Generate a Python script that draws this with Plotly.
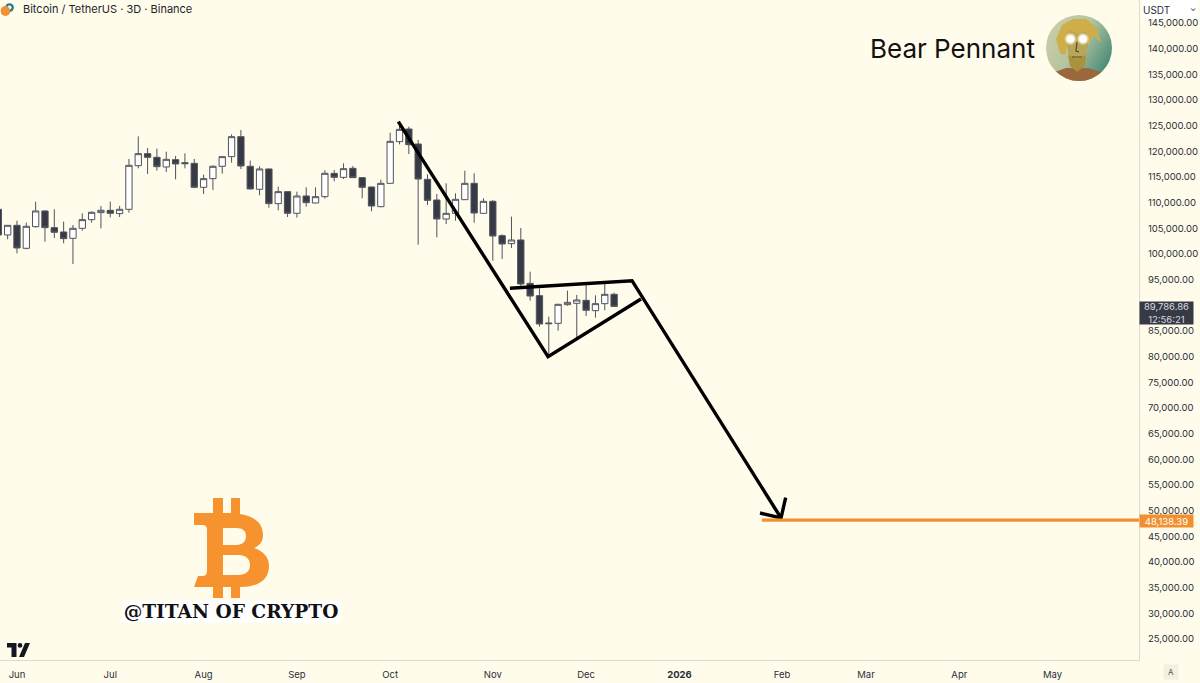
import base64

import plotly.graph_objects as go

BG = "#FFFCEB"
DARK = "#363A45"
ORANGE = "#F29030"
AXIS_TEXT = "#2A2E39"

opens = [108703, 103703, 105586, 101106, 105327, 108378, 105132, 104288, 103054, 105002,
         106690, 108054, 108508, 107859, 108703, 117209, 119546, 118832, 116949, 118377,
         117793, 117663, 112988, 114677, 117079, 118962, 122858, 117079, 112599, 116560,
         109807, 112144, 107924, 111300, 109936, 111170, 115713, 114933, 116686, 114868,
         113050, 109219, 113764, 121881, 124348, 121426, 114543, 110518, 106817, 107921,
         110583, 113764, 107921, 110258, 103570, 102012, 102726, 94285, 91882, 86560,
         86493, 90130, 90390, 90974, 88961, 90325, 92143]
highs = [108900, 105586, 106495, 106106, 110196, 108500, 108703, 106300, 105651, 107924,
         108313, 109352, 110196, 109352, 118507, 122923, 120650, 120520, 119936, 119092,
         119611, 118507, 115456, 117274, 119092, 123312, 124156, 118183, 117079, 116650,
         113118, 112250, 112144, 112988, 112988, 116300, 116362, 117660, 117141, 114950,
         113100, 114479, 123634, 125127, 124802, 122205, 115518, 111687, 113764, 111816,
         116232, 115713, 110842, 110518, 103830, 107271, 105063, 96558, 93312, 87793,
         90300, 92857, 92013, 93960, 91948, 94285, 92467]
lows = [103000, 102860, 100132, 100911, 105132, 102405, 103119, 102080, 98055, 104547,
        106106, 105002, 107145, 107210, 108054, 116689, 115585, 116235, 115975, 114547,
        116689, 112793, 111690, 112469, 115650, 117793, 116560, 112599, 111430, 109028,
        108508, 107210, 107080, 109222, 109872, 110781, 114154, 114608, 114800, 110842,
        108310, 109089, 113700, 121361, 119478, 101817, 109544, 103246, 105843, 106492,
        110518, 106102, 107900, 98700, 99025, 101168, 93636, 90909, 85844, 80130,
        85065, 89935, 83571, 87922, 87597, 89026, 89700]
closes = [103703, 105586, 101171, 105391, 108378, 105132, 104223, 102989, 105002, 106690,
          108119, 108508, 107924, 108703, 117274, 119546, 118832, 117014, 118442, 117533,
          117598, 112988, 114677, 117079, 118962, 122858, 117144, 112664, 116560, 109807,
          112144, 107924, 111300, 110001, 111170, 115715, 114933, 116621, 114868, 112985,
          109349, 113764, 121946, 124283, 121296, 114608, 110453, 106817, 107921, 110648,
          113764, 107985, 110258, 103505, 101947, 102726, 94155, 91817, 86364, 86430,
          90195, 90585, 91039, 89026, 90325, 92143, 89786.86]

month_bars = [2, 12, 22, 32, 42, 53, 63, 73, 84, 93, 103, 113]
month_labels = ["Jun", "Jul", "Aug", "Sep", "Oct", "Nov", "Dec", "<b>2026</b>", "Feb", "Mar", "Apr", "May"]
# 90,000 sits under the last price box
price_ticks = [p for p in range(25000, 150000, 5000) if p != 90000]

# drawn overlay, in bar index / price
move_x = [42.87, 58.92, 68.88]
move_y = [125770, 79992, 91232]
top_x = [54.84, 67.92, 83.89]
top_y = [93316, 94797, 48571]
head_x = [84.39, 83.89, 81.64]
head_y = [52525, 48571, 49545]
target_x = [81.85, 122.26]
target_y = [48138.39, 48138.39]

X_RANGE = [0.18, 122.26]
Y_RANGE = [20909, 149477]


def svg_uri(body, w, h):
    svg = f'<svg xmlns="http://www.w3.org/2000/svg" viewBox="0 0 {w} {h}" width="{w}" height="{h}">{body}</svg>'
    return "data:image/svg+xml;base64," + base64.b64encode(svg.encode()).decode()


AVATAR = """
<defs><clipPath id="c"><circle cx="33" cy="33" r="33"/></clipPath>
<linearGradient id="s" x1="0" y1="0" x2="1" y2="0.6"><stop offset="0" stop-color="#d2cfa8"/><stop offset="0.55" stop-color="#b4c4a0"/><stop offset="1" stop-color="#4f8f7c"/></linearGradient>
<radialGradient id="g"><stop offset="0.5" stop-color="#ffffff"/><stop offset="1" stop-color="#fff6b0" stop-opacity="0"/></radialGradient></defs>
<g clip-path="url(#c)">
<rect width="66" height="66" fill="url(#s)"/>
<path d="M0 66 L6 58 L20 53 L42 53 L58 58 L66 66 Z" fill="#9a683c"/>
<path d="M22 14 L41 14 L42 32 L39 42 L31 46 L23 42 L21 32 Z" fill="#b9a55a"/>
<path d="M22 40 L31 44 L40 40 L39 51 L31 57 L24 51 Z" fill="#a8923c"/>
<path d="M14 38 L10 24 L16 10 L27 4 L40 4 L50 12 L55 28 L47 20 L43 30 L41 16 L32 19 L24 15 L21 30 L19 40 Z" fill="#cfae4a"/>
<path d="M31 27 L30 36 L33 37 M26 42 L36 42" stroke="#5d4a20" stroke-width="1.2" fill="none"/>
<circle cx="24.5" cy="24" r="6.5" fill="url(#g)"/><circle cx="37" cy="24" r="6.5" fill="url(#g)"/>
</g>"""

BTC_B = """
<path fill="#F7932E" fill-rule="evenodd" d="M19 0 H29 V15 H37 V0 H46 V16 C60 18 69 25 69 37 C69 44 65 48 60 50
C70 53 75 60 75 68 C75 82 64 89 46 89 V100 H37 V89 H29 V100 H19 V89 H0 L4 78 H8 C12 78 13 76 13 73 V32
C13 28 11 27 8 27 H0 V15 H19 Z
M29 30 V47 H42 C49 47 52 43 52 38 C52 33 49 30 42 30 Z M29 57 V77 H44 C52 77 56 73 56 67 C56 61 52 57 44 57 Z"/>"""

TV_LOGO = """
<path fill="#131722" d="M0 0 H9.5 V14 H4.5 V4.5 H0 Z M13 0 A2.4 2.4 0 1 1 13 4.8 A2.4 2.4 0 1 1 13 0 Z M12 14 L18 0 H23 L17 14 Z"/>"""

COIN = """
<circle cx="9" cy="4.6" r="4.4" fill="#2c7d8c"/>
<circle cx="9" cy="4.6" r="2" fill="#ffffff"/>
<circle cx="4.9" cy="8" r="4.9" fill="#F0913A"/>"""

fig = go.Figure()

fig.add_trace(go.Candlestick(
    x=list(range(len(opens))),
    open=opens,
    high=highs,
    low=lows,
    close=closes,
    whiskerwidth=0,
    increasing=dict(fillcolor="#FFFFFF", line=dict(color="#50535E", width=1)),
    decreasing=dict(fillcolor=DARK, line=dict(color="#50535E", width=1)),
))

for xs, ys in [(move_x, move_y), (top_x, top_y), (head_x, head_y)]:
    fig.add_trace(go.Scatter(x=xs, y=ys, mode="lines", line=dict(color="#000000", width=3.4)))
fig.add_trace(go.Scatter(x=target_x, y=target_y, mode="lines", line=dict(color=ORANGE, width=3.2)))


def px_x(v):
    return v / 1139


def px_y(v):
    return 1 - v / 660


images = [
    (AVATAR, 66, 66, 1046, 15),
    (BTC_B, 76, 100, 194, 498),
    (TV_LOGO, 23, 14, 7, 643),
    (COIN, 14, 13, 0.5, 3),
]
fig.update_layout(images=[
    dict(source=svg_uri(body, w, h), xref="paper", yref="paper", x=px_x(x), y=px_y(y),
         sizex=w / 1139, sizey=h / 660, xanchor="left", yanchor="top", layer="above", sizing="stretch")
    for body, w, h, x, y in images
])


def label(text, x, y, size=11, color="#131722", family="Inter", xanchor="center", **kw):
    fig.add_annotation(text=text, x=px_x(x), y=px_y(y), xref="paper", yref="paper", showarrow=False,
                       xanchor=xanchor, yanchor="middle",
                       font=dict(family=family, size=size, color=color), **kw)


label("Bitcoin / TetherUS · 3D · Binance", 21, 9, size=11, xanchor="left", color="#1c1f29")
label("Bear Pennant", 952, 49, size=26, color="#111111")
label("<b>@TITAN OF CRYPTO</b>", 231, 611, size=18.6, family="DejaVu Serif", color="#111111",
      bgcolor="#FFFFFF", borderpad=0, width=218, height=21)
label("48,138.39", 1166, 521, size=9.5, color="#FFFFFF", bgcolor=ORANGE, width=53, height=12, borderpad=0)
label("89,786.86<br>12:56:21", 1166, 313, size=9.5, color="#D9DAE0", bgcolor=DARK, width=53, height=22,
      borderpad=0)
label("USDT", 1170, 10, size=10, color=AXIS_TEXT, bgcolor="#FFFFFF", width=55, height=17, borderpad=0,
      align="left")
label("⌄", 1193, 8, size=8, color=AXIS_TEXT)
label("A", 1171, 672, size=8, color="#50535E", bgcolor="#F2F0DE", width=14, height=14, borderpad=0)

fig.update_xaxes(
    range=X_RANGE,
    tickmode="array",
    tickvals=month_bars,
    ticktext=month_labels,
    tickfont=dict(family="Inter", size=9.5, color=AXIS_TEXT),
    ticks="outside",
    ticklen=6,
    tickcolor="rgba(0,0,0,0)",
    showgrid=False,
    zeroline=False,
    showline=True,
    linecolor="#DEDCCB",
    linewidth=1,
    rangeslider=dict(visible=False),
)
fig.update_yaxes(
    range=Y_RANGE,
    side="right",
    tickmode="array",
    tickvals=price_ticks,
    tickformat=",.2f",
    tickfont=dict(family="Inter", size=9.5, color=AXIS_TEXT),
    ticks="outside",
    ticklen=6,
    tickcolor="rgba(0,0,0,0)",
    showgrid=False,
    zeroline=False,
    showline=True,
    linecolor="#DEDCCB",
    linewidth=1,
)
fig.update_layout(
    width=1200,
    height=683,
    margin=dict(l=0, r=61, t=0, b=23, pad=0),
    paper_bgcolor=BG,
    plot_bgcolor=BG,
    showlegend=False,
    boxgap=0.25,
    boxgroupgap=0.1,
)

fig.write_html("out.html", config={"displayModeBar": False},
               post_script="document.body.style.margin='0';document.body.style.background='%s';" % BG)
